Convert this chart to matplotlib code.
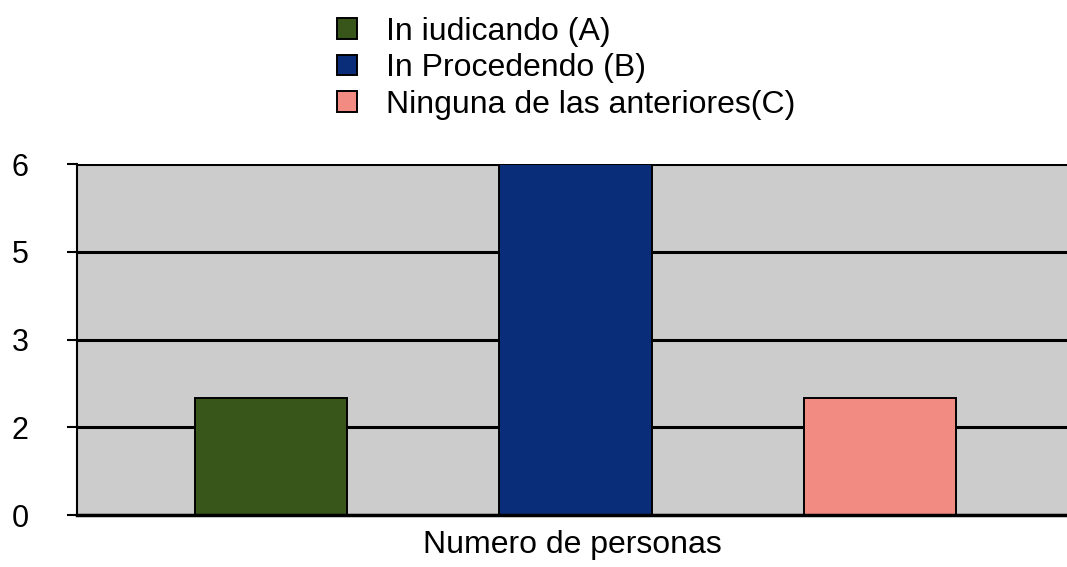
import matplotlib
matplotlib.use("Agg")
import matplotlib.pyplot as plt
import numpy as np

plt.rcParams['font.family'] = ['Liberation Sans', 'DejaVu Sans']

categories = ["In iudicando (A)", "In Procedendo (B)", "Ninguna de las anteriores(C)"]
values = [2, 6, 2]
colors = ["#38561a", "#0a2d7a", "#f28b82"]
ytick_vals = [0, 1.5, 3, 4.5, 6]
ytick_labels = ["0", "2", "3", "5", "6"]
xlabel = "Numero de personas"

fig = plt.figure(figsize=(10.67, 5.67), dpi=100)
ax = fig.add_axes([0.0722, 0.0917, 0.9278, 0.619])
ax.set_facecolor("#cccccc")

x = np.arange(len(categories))
bars = ax.bar(x, values, width=0.5, color=colors, edgecolor="black",
              linewidth=1.4, label=categories, zorder=3)

ax.set_xlim(-0.638, 2.615)
ax.set_ylim(0, 6)
ax.set_yticks(ytick_vals)
ax.set_yticklabels(ytick_labels, fontsize=22)
ax.yaxis.grid(True, color="black", linewidth=2.2, zorder=1)
ax.set_axisbelow(True)
ax.set_xticks([])
ax.tick_params(axis="y", length=7, width=1.5, color="black", pad=40)
for lbl in ax.get_yticklabels():
    lbl.set_horizontalalignment("left")

for s in ["top", "right"]:
    ax.spines[s].set_visible(False)
ax.spines["left"].set_linewidth(1.5)
ax.spines["bottom"].set_linewidth(2.5)
ax.spines["bottom"].set_zorder(4)

ax.set_xlabel(xlabel, fontsize=23, labelpad=11)

fig.legend(handles=bars, labels=categories, loc="upper left",
           bbox_to_anchor=(337 / 1067, 1 - 17 / 567), frameon=False, fontsize=23,
           handlelength=0.62, handleheight=0.62, handletextpad=0.9,
           labelspacing=0.2, borderaxespad=0, borderpad=0)

fig.savefig("out.png", dpi=100)
